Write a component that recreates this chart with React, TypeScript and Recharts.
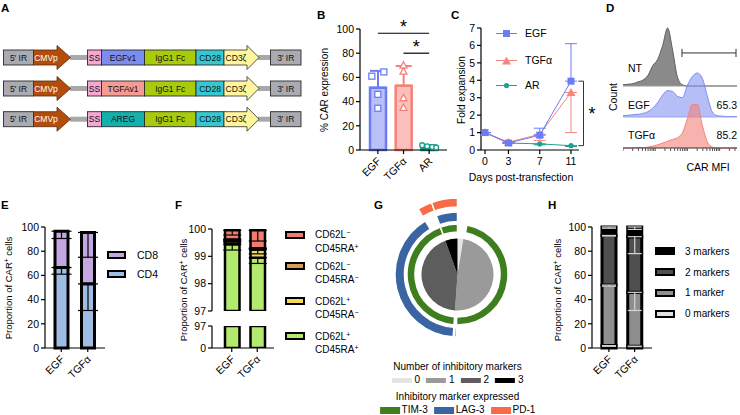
import React from "react";
import {
  ComposedChart,
  BarChart,
  Bar,
  LineChart,
  Line,
  AreaChart,
  Area,
  PieChart,
  Pie,
  Cell,
  XAxis,
  YAxis,
  ErrorBar,
  ReferenceLine,
} from "recharts";

const FONT = '"Liberation Sans", Arial, Helvetica, sans-serif';

// A - constructs
const bindingDomains = ["EGFv1", "TGFAv1", "AREG"];
const bindingColors = ["#7b8cf2", "#f59b91", "#13b1ad"];

// B - % CAR expression
const carGroups = ["EGF", "TGFα", "AR"];
const carMean = [51.5, 53.2, 3.0];
const carSd = [13.9, 16.2, 1.0];
const carReps = [
  [61, 64.5, 46, 34.5],
  [70, 65, 43, 35],
  [4, 3, 2.5, 2],
];

// C - fold expansion
const days = [0, 3, 7, 11];
const egfFold = [1.0, 0.4, 0.85, 3.95];
const egfUp = [0, 0.05, 0.4, 2.15];
const tgfFold = [1.0, 0.45, 0.9, 3.3];
const tgfDown = [0, 0.05, 0.35, 2.3];
const arFold = [1.0, 0.4, 0.35, 0.25];
const arDown = [0, 0.03, 0.05, 0.05];

// D - CAR MFI histograms (normalised counts per bin)
const ntCounts = [0.02, 0.03, 0.04, 0.07, 0.1, 0.18, 0.35, 0.46, 0.7, 1.0, 0.62, 0.15, 0.02, 0, 0, 0, 0, 0, 0, 0, 0, 0, 0, 0];
const egfCounts = [0.03, 0.04, 0.05, 0.06, 0.08, 0.12, 0.2, 0.33, 0.5, 0.6, 0.58, 0.47, 0.44, 0.72, 0.92, 1.0, 0.88, 0.48, 0.12, 0.03, 0.02, 0.01, 0.01, 0.01];
const tgfCounts = [0, 0, 0, 0.01, 0.01, 0.02, 0.04, 0.07, 0.11, 0.15, 0.19, 0.23, 0.34, 0.65, 0.97, 0.97, 0.5, 0.14, 0.02, 0, 0, 0, 0, 0];

// E - CD4 / CD8
const cellGroups = ["EGF", "TGFα"];
const cd4Share = [66.5, 53];
const cd4Sd = [5.5, 22];
const cd8Share = [30, 42.5];
const cd8Sd = [6, 20.5];

// F - memory phenotype (bottom to top: CD62L+CD45RA+, CD62L+CD45RA-, CD62L-CD45RA-, CD62L-CD45RA+)
const memPP = [99.44, 98.95];
const memPPSd = [0.21, 0.21];
const memPM = [0.12, 0.3];
const memPMSd = [0.04, 0.16];
const memMM = [0.06, 0.05];
const memMMSd = [0.02, 0.02];
const memMP = [0.33, 0.65];
const memMPSd = [0.17, 0.39];

// G - inhibitory markers
const markerLevels = ["0", "1", "2", "3"];
const markerShare = [2.6, 48.5, 43.4, 5.5];
const tim3Arc = [3.0, 47.3, 0.8, 43.4, 5.5];
const tim3On = [0, 1, 0, 1, 1];
const lag3Arc = [50.3, 0.5, 0.3, 40.3, 3.1, 5.5];
const lag3On = [0, 1, 0, 1, 0, 1];
const pd1Arc = [50.8, 0.3, 40.3, 3.1, 5.5];
const pd1On = [0, 1, 0, 1, 1];

// H - number of markers per group
const mk0 = [2, 1.5];
const mk0Sd = [0.6, 0.5];
const mk1 = [50, 44.5];
const mk1Sd = [1, 15];
const mk2 = [41, 46];
const mk2Sd = [0.5, 14];
const mk3 = [7, 8];
const mk3Sd = [1, 2];

const axisLine = { stroke: "#000", strokeWidth: 1.2 };
const tickFont = { fill: "#000", fontSize: 10.5 };

function SlantTick(props: any) {
  const { x, y, payload } = props;
  return (
    <g transform={`translate(${x + 1},${y + 3})`}>
      <text textAnchor="end" dominantBaseline="central" transform="rotate(-45)" fontSize={10.5} fill="#000">
        {payload.value}
      </text>
    </g>
  );
}

const EmptyTick = () => <g />;

function T({ x, y, size = 10, align = "start", bold = false, color = "#000", children }: any) {
  const tx = align === "middle" ? "-50%" : align === "end" ? "-100%" : "0";
  return (
    <div
      style={{
        position: "absolute",
        left: x,
        top: y,
        transform: `translate(${tx},-50%)`,
        fontSize: size,
        fontWeight: bold ? 700 : 400,
        color,
        whiteSpace: "nowrap",
        lineHeight: 1,
      }}
    >
      {children}
    </div>
  );
}

function VT({ x, y, size = 10, children }: any) {
  return (
    <div
      style={{
        position: "absolute",
        left: x,
        top: y,
        transform: "translate(-50%,-50%) rotate(-90deg)",
        fontSize: size,
        whiteSpace: "nowrap",
        lineHeight: 1,
      }}
    >
      {children}
    </div>
  );
}

const Sup = ({ c }: any) => (
  <span style={{ fontSize: "0.7em", verticalAlign: "0.5em", lineHeight: 0 }}>{c}</span>
);

const letters = [
  { t: "A", x: 1, y: 3 },
  { t: "B", x: 317, y: 9.5 },
  { t: "C", x: 451, y: 9.5 },
  { t: "D", x: 606, y: 3 },
  { t: "E", x: 1, y: 200 },
  { t: "F", x: 175, y: 200 },
  { t: "G", x: 374, y: 200 },
  { t: "H", x: 548, y: 200 },
];

function Constructs() {
  const tops = [50, 81, 111.7];
  return (
    <svg width={310} height={135} style={{ position: "absolute", left: 0, top: 0 }}>
      {bindingDomains.map((name, i) => {
        const t = tops[i];
        const m = t + 7.5;
        const box = (x1: number, x2: number, fill: string, label: string) => (
          <g key={label}>
            <rect x={x1} y={t} width={x2 - x1} height={15} fill={fill} stroke="#2b2b2b" strokeWidth={0.9} />
            <text x={(x1 + x2) / 2} y={m} textAnchor="middle" dominantBaseline="central" fontSize={8.5} fill="#111">
              {label}
            </text>
          </g>
        );
        return (
          <g key={name}>
            <rect x={70} y={m - 2.5} width={18} height={5} fill="#a8a8a8" />
            <rect x={258} y={m - 2.5} width={13} height={5} fill="#a8a8a8" />
            {box(3.5, 33.5, "#a9abb0", "5' IR")}
            <polygon
              points={`33.5,${t} 57,${t} 57,${t - 4.5} 70.5,${m} 57,${t + 19.5} 57,${t + 15} 33.5,${t + 15}`}
              fill="#b34d0d"
              stroke="#5c2a0a"
              strokeWidth={0.8}
            />
            <text x={46} y={m} textAnchor="middle" dominantBaseline="central" fontSize={8.5} fill="#fff">
              CMVp
            </text>
            {box(87.5, 101.5, "#f7a8d2", "SS")}
            {box(101.5, 144.5, bindingColors[i], name)}
            {box(144.5, 196, "#a8cc0c", "IgG1 Fc")}
            {box(196, 224, "#35c8d2", "CD28")}
            <polygon
              points={`224,${t} 247,${t} 247,${t - 4.5} 259,${m} 247,${t + 19.5} 247,${t + 15} 224,${t + 15}`}
              fill="#fff59c"
              stroke="#2b2b2b"
              strokeWidth={0.8}
            />
            <text x={236} y={m} textAnchor="middle" dominantBaseline="central" fontSize={8.5} fill="#111">
              CD3ζ
            </text>
            {box(270.5, 301, "#a9abb0", "3' IR")}
          </g>
        );
      })}
    </svg>
  );
}

// ---------- B
const carKeys = ["egf", "tgf", "ar"];
const carStroke = ["#6b7cf6", "#f5817a", "#1b9d8d"];
const carFill = ["#b9c1f8", "#fbc0bb", "#1b9d8d"];
const carJitter = [
  [-6, 6, 0, 0],
  [0, 0, 0, 0],
  [-7, -2, 3, 7],
];

const carRows = carGroups.map((name, i) => {
  const row: any = { name };
  carKeys.forEach((k, j) => (row[k] = j === i ? carMean[i] : 0));
  row[carKeys[i] + "Err"] = [0, carSd[i]];
  carReps[i].forEach((v, j) => (row["r" + j] = v));
  return row;
});

function repDot(j: number) {
  return (p: any) => {
    const { cx, cy, index } = p;
    const k = `r${j}-${index}`;
    if (cx == null || cy == null) return <g key={k} />;
    const x = cx + carJitter[index][j];
    const c = carStroke[index];
    if (index === 0)
      return <rect key={k} x={x - 3} y={cy - 3} width={6} height={6} fill="#fff" stroke={c} strokeWidth={1.3} />;
    if (index === 1)
      return (
        <polygon
          key={k}
          points={`${x},${cy - 3.6} ${x + 3.5},${cy + 2.8} ${x - 3.5},${cy + 2.8}`}
          fill="#fff"
          stroke={c}
          strokeWidth={1.3}
        />
      );
    return <circle key={k} cx={x} cy={cy} r={2.4} fill="#fff" stroke={c} strokeWidth={1.3} />;
  };
}

function CarExpression() {
  return (
    <div style={{ position: "absolute", left: 300, top: 0 }}>
      <ComposedChart width={160} height={185} data={carRows} margin={{ top: 29, right: 13, bottom: 0, left: 0 }}>
        <XAxis
          dataKey="name"
          height={35}
          padding={{ left: 5, right: 5 }}
          axisLine={axisLine}
          tickLine={axisLine}
          tickSize={4}
          tick={<SlantTick />}
          interval={0}
        />
        <YAxis
          width={60}
          domain={[0, 100]}
          ticks={[0, 20, 40, 60, 80, 100]}
          axisLine={axisLine}
          tickLine={axisLine}
          tickSize={4}
          tickMargin={2}
          tick={tickFont}
        />
        {carKeys.map((k, i) => (
          <Bar
            key={k}
            dataKey={k}
            stackId="c"
            barSize={16}
            fill={carFill[i]}
            stroke={carStroke[i]}
            strokeWidth={2.5}
            isAnimationActive={false}
          >
            <ErrorBar dataKey={k + "Err"} width={8} stroke={carStroke[i]} strokeWidth={2} direction="y" />
          </Bar>
        ))}
        {[0, 1, 2, 3].map((j) => (
          <Line
            key={j}
            dataKey={"r" + j}
            stroke="none"
            dot={repDot(j)}
            activeDot={false}
            isAnimationActive={false}
          />
        ))}
        <ReferenceLine
          segment={[
            { x: "EGF", y: 96.5 },
            { x: "AR", y: 96.5 },
          ]}
          stroke="#000"
          strokeWidth={1.2}
          label={{ value: "*", position: "top", fontSize: 18, fill: "#000", offset: 0 }}
        />
        <ReferenceLine
          segment={[
            { x: "TGFα", y: 80 },
            { x: "AR", y: 80 },
          ]}
          stroke="#000"
          strokeWidth={1.2}
          label={{ value: "*", position: "top", fontSize: 18, fill: "#000", offset: 0 }}
        />
      </ComposedChart>
      <VT x={25} y={90}>% CAR expression</VT>
    </div>
  );
}

// ---------- C
const foldRows = days.map((d, i) => ({
  day: d,
  egf: egfFold[i],
  egfErr: [0, egfUp[i]],
  tgf: tgfFold[i],
  tgfErr: [tgfDown[i], 0],
  ar: arFold[i],
  arErr: [arDown[i], 0],
}));

const EGF_C = "#6b7cf6";
const TGF_C = "#f6857e";
const AR_C = "#1fa192";

const squareDot = (p: any) => (
  <rect key={`sq${p.index}`} x={p.cx - 3.5} y={p.cy - 3.5} width={7} height={7} fill={EGF_C} />
);
const triDot = (p: any) => (
  <polygon
    key={`tr${p.index}`}
    points={`${p.cx},${p.cy - 4.5} ${p.cx + 4.5},${p.cy + 3.5} ${p.cx - 4.5},${p.cy + 3.5}`}
    fill={TGF_C}
  />
);
const circDot = (p: any) => <circle key={`ci${p.index}`} cx={p.cx} cy={p.cy} r={2.6} fill={AR_C} />;

function FoldExpansion() {
  return (
    <div style={{ position: "absolute", left: 420, top: 0 }}>
      <LineChart width={180} height={185} data={foldRows} margin={{ top: 28, right: 21, bottom: 0, left: 0 }}>
        <XAxis
          dataKey="day"
          type="number"
          domain={[0, 11]}
          ticks={days}
          padding={{ left: 4, right: 8 }}
          height={35}
          axisLine={axisLine}
          tickLine={axisLine}
          tickSize={4}
          tickMargin={4}
          tick={tickFont}
          interval={0}
        />
        <YAxis
          width={61}
          domain={[0, 7]}
          ticks={[0, 1, 2, 3, 4, 5, 6, 7]}
          axisLine={axisLine}
          tickLine={axisLine}
          tickSize={4}
          tickMargin={2}
          tick={tickFont}
        />
        <Line dataKey="ar" stroke={AR_C} strokeWidth={1} dot={circDot} activeDot={false} isAnimationActive={false}>
          <ErrorBar dataKey="arErr" width={6} stroke={AR_C} strokeWidth={1} direction="y" />
        </Line>
        <Line dataKey="tgf" stroke={TGF_C} strokeWidth={1} dot={triDot} activeDot={false} isAnimationActive={false}>
          <ErrorBar dataKey="tgfErr" width={6} stroke={TGF_C} strokeWidth={1} direction="y" />
        </Line>
        <Line dataKey="egf" stroke={EGF_C} strokeWidth={1} dot={squareDot} activeDot={false} isAnimationActive={false}>
          <ErrorBar dataKey="egfErr" width={6} stroke={EGF_C} strokeWidth={1} direction="y" />
        </Line>
        <ReferenceLine
          segment={[
            { x: 11.95, y: 3.95 },
            { x: 12.6, y: 3.95 },
          ]}
          ifOverflow="visible"
          stroke="#333"
          strokeWidth={1}
        />
        <ReferenceLine
          segment={[
            { x: 12.6, y: 3.95 },
            { x: 12.6, y: 0.25 },
          ]}
          ifOverflow="visible"
          stroke="#333"
          strokeWidth={1}
          label={{ value: "*", position: "right", offset: 5, fontSize: 18, fill: "#000" }}
        />
        <ReferenceLine
          segment={[
            { x: 11.95, y: 0.25 },
            { x: 12.6, y: 0.25 },
          ]}
          ifOverflow="visible"
          stroke="#333"
          strokeWidth={1}
        />
      </LineChart>
      <VT x={42} y={90}>Fold expansion</VT>
      <T x={101} y={177} align="middle" size={10.5}>
        Days post-transfection
      </T>
    </div>
  );
}

function FoldLegend() {
  const items = [
    { label: "EGF", y: 33, dot: <rect x={7} y={0} width={7} height={7} fill={EGF_C} />, c: EGF_C },
    { label: "TGFα", y: 60, dot: <polygon points="10.5,-0.5 15,7.5 6,7.5" fill={TGF_C} />, c: TGF_C },
    { label: "AR", y: 85, dot: <circle cx={10.5} cy={3.5} r={2.6} fill={AR_C} />, c: AR_C },
  ];
  return (
    <>
      {items.map((it) => (
        <div key={it.label}>
          <svg width={21} height={9} style={{ position: "absolute", left: 496, top: it.y - 4 }}>
            <g transform="translate(0,1)">
              <line x1={0} x2={21} y1={3.5} y2={3.5} stroke={it.c} strokeWidth={1} />
              {it.dot}
            </g>
          </svg>
          <T x={525} y={it.y} size={10.5}>
            {it.label}
          </T>
        </div>
      ))}
    </>
  );
}

// ---------- D
const mfiBins = ntCounts.map((_, i) => i);
const mfiTicks: number[] = [];
[0, 6.5, 13, 19.5].forEach((d) =>
  [1, 2, 3, 4, 5, 6, 7, 8, 9].forEach((k) => {
    const t = d + 6.5 * Math.log10(k);
    if (t <= 23) mfiTicks.push(+t.toFixed(2));
  })
);

function Histogram({ counts, top, plotH, stroke, fill, opacity, base, axis }: any) {
  const rows = mfiBins.map((b, i) => ({ bin: b, v: counts[i] }));
  const h = 1 + plotH + (axis ? 5 : 1);
  return (
    <div style={{ position: "absolute", left: 623, top }}>
      <AreaChart width={114} height={h} data={rows} margin={{ top: 1, right: 0, bottom: axis ? 0 : 1, left: 0 }}>
        <XAxis
          dataKey="bin"
          type="number"
          domain={[0, 23]}
          hide={!axis}
          ticks={mfiTicks}
          tick={EmptyTick}
          interval={0}
          tickSize={3}
          height={5}
          axisLine={{ stroke: "#4a2a2a", strokeWidth: 1.2 }}
          tickLine={{ stroke: "#555" }}
        />
        <YAxis hide domain={[0, 1]} />
        <Area
          type="monotone"
          dataKey="v"
          stroke={stroke}
          strokeWidth={1}
          fill={fill}
          fillOpacity={opacity}
          isAnimationActive={false}
        />
        {!axis && <ReferenceLine y={0} stroke={base} strokeWidth={1.2} />}
        {base === "#9a9a9a" && (
          <>
            <ReferenceLine segment={[{ x: 11.9, y: 0.57 }, { x: 22.8, y: 0.57 }]} stroke="#333" strokeWidth={1} />
            <ReferenceLine segment={[{ x: 11.9, y: 0.5 }, { x: 11.9, y: 0.64 }]} stroke="#333" strokeWidth={1} />
            <ReferenceLine segment={[{ x: 22.8, y: 0.5 }, { x: 22.8, y: 0.64 }]} stroke="#333" strokeWidth={1} />
          </>
        )}
      </AreaChart>
    </div>
  );
}

function MfiHistograms() {
  return (
    <>
      <Histogram counts={ntCounts} top={27} plotH={58} stroke="#5e5e5e" fill="#8a8a8a" opacity={1} base="#9a9a9a" />
      <Histogram counts={egfCounts} top={72} plotH={44} stroke="#7d8cf2" fill="#8393f2" opacity={0.6} base="#9aa6f3" />
      <Histogram counts={tgfCounts} top={102} plotH={45} stroke="#f3837c" fill="#f4807a" opacity={0.6} axis />
      <T x={628} y={68} size={10.5}>NT</T>
      <T x={628} y={105} size={10.5}>EGF</T>
      <T x={628} y={135} size={10.5}>TGFα</T>
      <T x={737} y={105} size={10.5} align="end">65.3</T>
      <T x={737} y={135} size={10.5} align="end">85.2</T>
      <VT x={613} y={97} size={10.5}>Count</VT>
      <T x={708} y={167} size={10.5} align="middle">CAR MFI</T>
    </>
  );
}

// ---------- E
const cellRows = cellGroups.map((name, i) => ({
  name,
  cd4: cd4Share[i],
  cd4Err: [cd4Sd[i], 0],
  cd8: cd8Share[i],
  cd8Err: [cd8Sd[i], 0],
}));

const propLabel = (
  <span>
    Proportion of CAR<Sup c="+" /> cells
  </span>
);

function CellSubsets() {
  return (
    <>
      <div style={{ position: "absolute", left: 0, top: 190 }}>
        <BarChart width={110} height={195} data={cellRows} margin={{ top: 37, right: 5, bottom: 0, left: 0 }}>
          <XAxis
            dataKey="name"
            height={37}
            padding={{ left: 3, right: 4 }}
            axisLine={axisLine}
            tickLine={axisLine}
            tickSize={4}
            tick={<SlantTick />}
            interval={0}
          />
          <YAxis
            width={45}
            domain={[0, 100]}
            ticks={[0, 20, 40, 60, 80, 100]}
            axisLine={axisLine}
            tickLine={axisLine}
            tickSize={4}
            tickMargin={2}
            tick={tickFont}
          />
          <Bar dataKey="cd4" stackId="s" barSize={13} fill="#9fbde2" stroke="#000" strokeWidth={3} isAnimationActive={false}>
            <ErrorBar dataKey="cd4Err" width={10} stroke="#000" strokeWidth={1.2} direction="y" />
          </Bar>
          <Bar dataKey="cd8" stackId="s" barSize={13} fill="#c3a7e0" stroke="#000" strokeWidth={3} isAnimationActive={false}>
            <ErrorBar dataKey="cd8Err" width={10} stroke="#000" strokeWidth={1.2} direction="y" />
          </Bar>
        </BarChart>
      </div>
      <VT x={9} y={288} size={9.5}>{propLabel}</VT>
      {[
        { l: "CD8", c: "#c3a7e0", y: 255 },
        { l: "CD4", c: "#9fbde2", y: 274 },
      ].map((it) => (
        <div key={it.l}>
          <div
            style={{
              position: "absolute",
              left: 107,
              top: it.y - 4.5,
              width: 15,
              height: 4,
              background: it.c,
              border: "2.5px solid #000",
            }}
          />
          <T x={137} y={it.y} size={10.5}>{it.l}</T>
        </div>
      ))}
    </>
  );
}

// ---------- F
const memKeys = ["pp", "pm", "mm", "mp"];
const memColors = ["#b3e96e", "#f5d75c", "#d99a5e", "#f07b6e"];
const memVals = [memPP, memPM, memMM, memMP];
const memSds = [memPPSd, memPMSd, memMMSd, memMPSd];
const memSigns = [
  ["+", "+"],
  ["+", "−"],
  ["−", "−"],
  ["−", "+"],
];
const memRows = cellGroups.map((name, i) => {
  const row: any = { name };
  memKeys.forEach((k, j) => {
    row[k] = memVals[j][i];
    row[k + "Err"] = [memSds[j][i], 0];
  });
  return row;
});

function MemoryHalf({ top, height, marginTop, marginBottom, domain, ticks, lower }: any) {
  return (
    <div style={{ position: "absolute", left: 160, top }}>
      <BarChart
        width={120}
        height={height}
        data={memRows}
        margin={{ top: marginTop, right: 6, bottom: marginBottom, left: 0 }}
      >
        <XAxis
          dataKey="name"
          hide={!lower}
          height={40}
          padding={{ left: 7, right: 4 }}
          axisLine={axisLine}
          tickLine={axisLine}
          tickSize={4}
          tick={<SlantTick />}
          interval={0}
        />
        <YAxis
          width={52}
          domain={domain}
          ticks={ticks}
          allowDataOverflow
          axisLine={axisLine}
          tickLine={axisLine}
          tickSize={4}
          tickMargin={2}
          tick={tickFont}
          interval={0}
        />
        {memKeys.map((k, i) => (
          <Bar
            key={k}
            dataKey={k}
            stackId="m"
            barSize={14.5}
            fill={memColors[i]}
            stroke="#000"
            strokeWidth={2.5}
            isAnimationActive={false}
          >
            {!lower && <ErrorBar dataKey={k + "Err"} width={9} stroke="#000" strokeWidth={1.2} direction="y" />}
          </Bar>
        ))}
      </BarChart>
    </div>
  );
}

function MemoryPhenotype() {
  const legendY = [336.7, 301.7, 266.7, 235];
  return (
    <>
      <MemoryHalf
        top={200}
        height={118}
        marginTop={29}
        marginBottom={7}
        domain={[97, 100]}
        ticks={[97, 98, 99, 100]}
      />
      <MemoryHalf top={300} height={88} marginTop={26} marginBottom={0} domain={[0, 97]} ticks={[0, 97]} lower />
      <VT x={184} y={290} size={9.5}>{propLabel}</VT>
      {memKeys.map((k, i) => (
        <div key={k}>
          <div
            style={{
              position: "absolute",
              left: 285,
              top: legendY[i] - 4.5,
              width: 16,
              height: 4,
              background: memColors[i],
              border: "2.5px solid #000",
            }}
          />
          <T x={315} y={legendY[i]} size={10}>
            CD62L<Sup c={memSigns[i][0]} />
          </T>
          <T x={315} y={legendY[i] + 13.5} size={10}>
            CD45RA<Sup c={memSigns[i][1]} />
          </T>
        </div>
      ))}
    </>
  );
}

// ---------- G
const markerColors = ["#e4e4e4", "#9a9a9a", "#5d5d5d", "#000000"];
const TIM3 = "#3e7e1e";
const LAG3 = "#3a64a2";
const PD1 = "#f96a47";

function ringRows(arcs: number[]) {
  return arcs.map((v, i) => ({ seg: i, v }));
}

function InhibitoryPie() {
  const cx = 77.5;
  const cy = 84.5;
  const rings = [
    { arcs: tim3Arc, on: tim3On, color: TIM3, r: [42.5, 50.5] },
    { arcs: lag3Arc, on: lag3On, color: LAG3, r: [53, 62.5] },
    { arcs: pd1Arc, on: pd1On, color: PD1, r: [67.5, 76.5] },
  ];
  const legend2 = [
    { l: "TIM-3", c: TIM3 },
    { l: "LAG-3", c: LAG3 },
    { l: "PD-1", c: PD1 },
  ];
  return (
    <>
      <div style={{ position: "absolute", left: 380, top: 190 }}>
        <PieChart width={160} height={172} margin={{ top: 0, right: 0, bottom: 0, left: 0 }}>
          <Pie
            data={markerLevels.map((m, i) => ({ m, v: markerShare[i] }))}
            dataKey="v"
            cx={cx}
            cy={cy}
            innerRadius={0}
            outerRadius={36}
            startAngle={90}
            endAngle={-270}
            stroke="none"
            isAnimationActive={false}
          >
            {markerLevels.map((m, i) => (
              <Cell key={m} fill={markerColors[i]} />
            ))}
          </Pie>
          {rings.map((ring, ri) => (
            <Pie
              key={ri}
              data={ringRows(ring.arcs)}
              dataKey="v"
              cx={cx}
              cy={cy}
              innerRadius={ring.r[0]}
              outerRadius={ring.r[1]}
              startAngle={90}
              endAngle={-270}
              isAnimationActive={false}
            >
              {ring.arcs.map((_, i) => (
                <Cell
                  key={i}
                  fill={ring.on[i] ? ring.color : "none"}
                  stroke={ring.on[i] ? "#fff" : "none"}
                  strokeWidth={1.5}
                />
              ))}
            </Pie>
          ))}
        </PieChart>
      </div>
      <T x={457.5} y={366.5} align="middle" size={10}>
        Number of inhibitory markers
      </T>
      <div
        style={{
          position: "absolute",
          left: 457.5,
          top: 380,
          transform: "translate(-50%,-50%)",
          display: "flex",
          alignItems: "center",
          fontSize: 10,
          lineHeight: 1,
          whiteSpace: "nowrap",
        }}
      >
        {markerLevels.map((m, i) => (
          <span key={m} style={{ display: "flex", alignItems: "center", marginLeft: i ? 6 : 0 }}>
            <span style={{ display: "inline-block", width: 20, height: 5, background: markerColors[i], marginRight: 3 }} />
            <span>{m}</span>
          </span>
        ))}
      </div>
      <T x={457.5} y={396.5} align="middle" size={10}>
        Inhibitory marker expressed
      </T>
      <div
        style={{
          position: "absolute",
          left: 457.5,
          top: 410,
          transform: "translate(-50%,-50%)",
          display: "flex",
          alignItems: "center",
          fontSize: 10,
          lineHeight: 1,
          whiteSpace: "nowrap",
        }}
      >
        {legend2.map((it, i) => (
          <span key={it.l} style={{ display: "flex", alignItems: "center", marginLeft: i ? 6 : 0 }}>
            <span style={{ display: "inline-block", width: 20, height: 7, background: it.c, marginRight: 2 }} />
            <span>{it.l}</span>
          </span>
        ))}
      </div>
    </>
  );
}

// ---------- H
const mkKeys = ["m0", "m1", "m2", "m3"];
const mkColors = ["#e0e0e0", "#8e8e8e", "#4f4f4f", "#000000"];
const mkVals = [mk0, mk1, mk2, mk3];
const mkSds = [mk0Sd, mk1Sd, mk2Sd, mk3Sd];
const mkLabels = ["0 markers", "1 marker", "2 markers", "3 markers"];
const mkRows = cellGroups.map((name, i) => {
  const row: any = { name };
  mkKeys.forEach((k, j) => {
    row[k] = mkVals[j][i];
    row[k + "Err"] = [mkSds[j][i], 0];
  });
  return row;
});

function MarkerBars() {
  const legendY = [314, 293.3, 272.7, 251.7];
  return (
    <>
      <div style={{ position: "absolute", left: 540, top: 190 }}>
        <BarChart width={120} height={195} data={mkRows} margin={{ top: 37, right: 8, bottom: 0, left: 0 }}>
          <XAxis
            dataKey="name"
            height={37}
            padding={{ left: 4, right: 4.5 }}
            axisLine={axisLine}
            tickLine={axisLine}
            tickSize={4}
            tick={<SlantTick />}
            interval={0}
          />
          <YAxis
            width={52}
            domain={[0, 100]}
            ticks={[0, 20, 40, 60, 80, 100]}
            axisLine={axisLine}
            tickLine={axisLine}
            tickSize={4}
            tickMargin={2}
            tick={tickFont}
          />
          {mkKeys.map((k, i) => (
            <Bar
              key={k}
              dataKey={k}
              stackId="h"
              barSize={14}
              fill={mkColors[i]}
              stroke="#000"
              strokeWidth={3}
              isAnimationActive={false}
            >
              <ErrorBar dataKey={k + "Err"} width={7} stroke="#d4d4d4" strokeWidth={1.2} direction="y" />
            </Bar>
          ))}
        </BarChart>
      </div>
      <VT x={558} y={290} size={9.5}>{propLabel}</VT>
      {mkKeys.map((k, i) => (
        <div key={k}>
          <div
            style={{
              position: "absolute",
              left: 655,
              top: legendY[i] - 4.5,
              width: 16,
              height: 4,
              background: mkColors[i],
              border: "2.5px solid #000",
            }}
          />
          <T x={685} y={legendY[i]} size={10}>{mkLabels[i]}</T>
        </div>
      ))}
    </>
  );
}

export default function App() {
  return (
    <div
      style={{
        position: "absolute",
        left: 0,
        top: 0,
        width: 740,
        height: 415,
        background: "#fff",
        fontFamily: FONT,
        overflow: "hidden",
        color: "#000",
      }}
    >
      {letters.map((l) => (
        <div
          key={l.t}
          style={{ position: "absolute", left: l.x, top: l.y, fontSize: 11.5, fontWeight: 700, lineHeight: 1 }}
        >
          {l.t}
        </div>
      ))}
      <Constructs />
      <CarExpression />
      <FoldExpansion />
      <FoldLegend />
      <MfiHistograms />
      <CellSubsets />
      <MemoryPhenotype />
      <InhibitoryPie />
      <MarkerBars />
    </div>
  );
}
